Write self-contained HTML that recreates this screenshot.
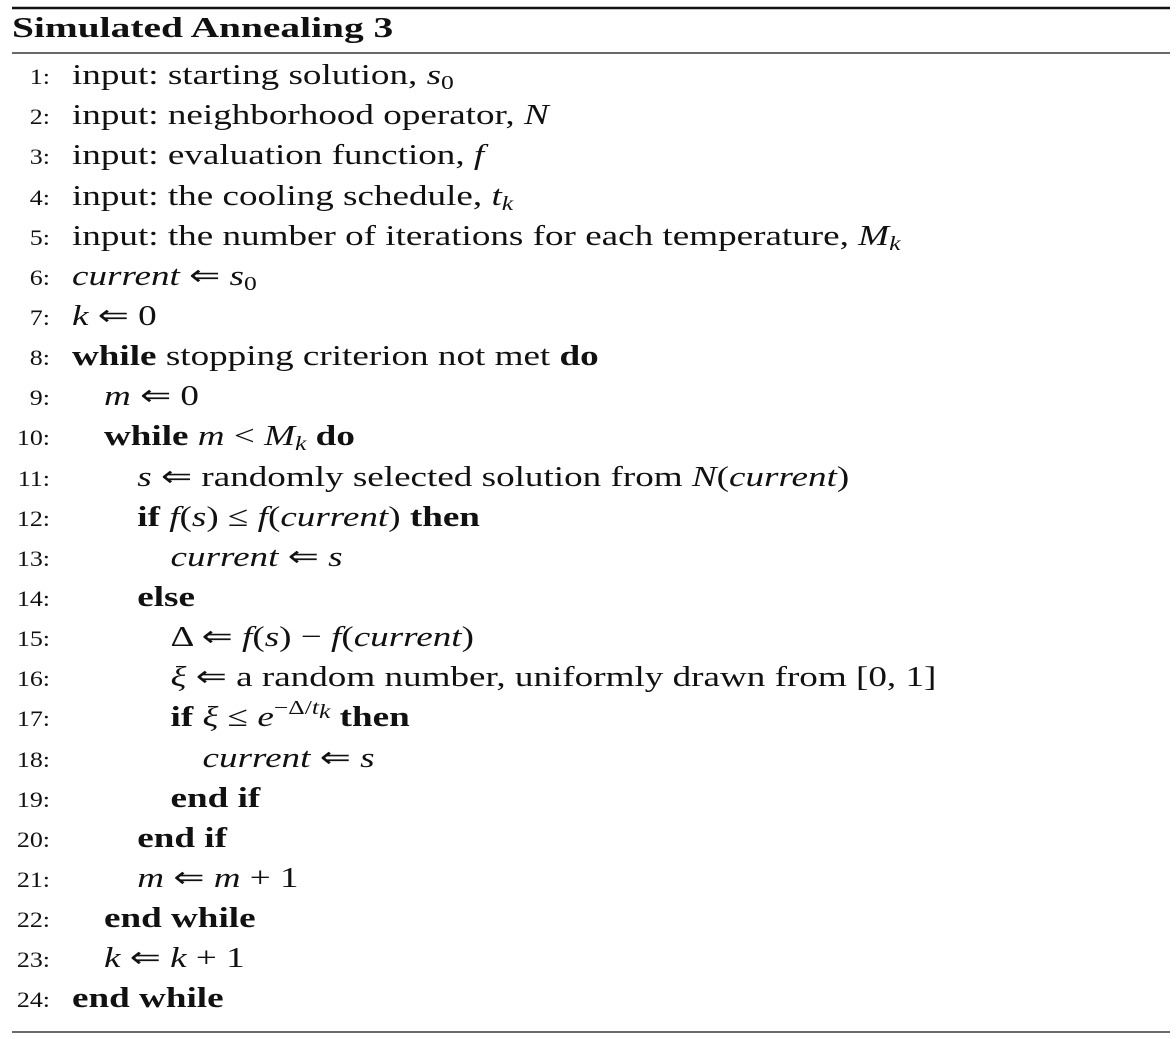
<!DOCTYPE html>
<html><head><meta charset="utf-8"><style>
html,body{margin:0;padding:0;background:#fff;width:1176px;height:1039px;overflow:hidden}
svg{display:block}
text{font-family:"Liberation Serif",serif;fill:#111}
.n{font-size:22px;text-anchor:end}
.t{font-size:29px}
.b{font-weight:bold}
.i{font-style:italic}
.s{font-size:20px}
</style></head><body>
<svg width="1176" height="1039">
<line x1="12" y1="8" x2="1170" y2="8" stroke="#111" stroke-width="2.5"/>
<g transform="translate(12,0) scale(1.36,1)">
<text x="0" y="37" class="t b" font-size="28">Simulated Annealing 3</text>
</g>
<line x1="12" y1="53" x2="1170" y2="53" stroke="#111" stroke-width="1.3"/>
<g transform="translate(50,0) scale(1.18,1)">
<text class="n" x="0" y="84">1:</text><text class="n" x="0" y="124">2:</text><text class="n" x="0" y="164">3:</text><text class="n" x="0" y="205">4:</text><text class="n" x="0" y="245">5:</text><text class="n" x="0" y="285">6:</text><text class="n" x="0" y="325">7:</text><text class="n" x="0" y="365">8:</text><text class="n" x="0" y="405">9:</text><text class="n" x="0" y="445">10:</text><text class="n" x="0" y="486">11:</text><text class="n" x="0" y="526">12:</text><text class="n" x="0" y="566">13:</text><text class="n" x="0" y="606">14:</text><text class="n" x="0" y="646">15:</text><text class="n" x="0" y="686">16:</text><text class="n" x="0" y="726">17:</text><text class="n" x="0" y="767">18:</text><text class="n" x="0" y="807">19:</text><text class="n" x="0" y="847">20:</text><text class="n" x="0" y="887">21:</text><text class="n" x="0" y="927">22:</text><text class="n" x="0" y="967">23:</text><text class="n" x="0" y="1007">24:</text>
</g>
<g transform="translate(72,0) scale(1.28,1)">
<text class="t" x="0" y="84">input: starting solution, <tspan class="i">s</tspan><tspan class="s" dy="5">0</tspan></text>
<text class="t" x="0" y="124">input: neighborhood operator, <tspan class="i">N</tspan></text>
<text class="t" x="0" y="164">input: evaluation function, <tspan class="i">f</tspan></text>
<text class="t" x="0" y="205">input: the cooling schedule, <tspan class="i">t</tspan><tspan class="s i" dy="5">k</tspan></text>
<text class="t" x="0" y="245">input: the number of iterations for each temperature, <tspan class="i">M</tspan><tspan class="s i" dy="5">k</tspan></text>
<text class="t" x="0" y="285"><tspan class="i">current</tspan> ⇐ <tspan class="i">s</tspan><tspan class="s" dy="5">0</tspan></text>
<text class="t" x="0" y="325"><tspan class="i">k</tspan> ⇐ 0</text>
<text class="t" x="0" y="365"><tspan class="b">while</tspan> stopping criterion not met <tspan class="b">do</tspan></text>
<text class="t" x="25" y="405"><tspan class="i">m</tspan> ⇐ 0</text>
<text class="t" x="25" y="445"><tspan class="b">while</tspan> <tspan class="i">m</tspan> &lt; <tspan class="i">M</tspan><tspan class="s i" dy="5">k</tspan><tspan dy="-5"> </tspan><tspan class="b">do</tspan></text>
<text class="t" x="51" y="486"><tspan class="i">s</tspan> ⇐ randomly selected solution from <tspan class="i">N</tspan>(<tspan class="i">current</tspan>)</text>
<text class="t" x="51" y="526"><tspan class="b">if</tspan> <tspan class="i">f</tspan>(<tspan class="i">s</tspan>) ≤ <tspan class="i">f</tspan>(<tspan class="i">current</tspan>) <tspan class="b">then</tspan></text>
<text class="t" x="77" y="566"><tspan class="i">current</tspan> ⇐ <tspan class="i">s</tspan></text>
<text class="t" x="51" y="606"><tspan class="b">else</tspan></text>
<text class="t" x="77" y="646">Δ ⇐ <tspan class="i">f</tspan>(<tspan class="i">s</tspan>) − <tspan class="i">f</tspan>(<tspan class="i">current</tspan>)</text>
<text class="t" x="77" y="686"><tspan class="i">ξ</tspan> ⇐ a random number, uniformly drawn from [0, 1]</text>
<text class="t" x="77" y="726"><tspan class="b">if</tspan> <tspan class="i">ξ</tspan> ≤ <tspan class="i">e</tspan><tspan class="s" dy="-12">−Δ/</tspan><tspan class="s i">t</tspan><tspan class="s i" font-size="14" dy="4">k</tspan><tspan dy="8"> </tspan><tspan class="b">then</tspan></text>
<text class="t" x="102" y="767"><tspan class="i">current</tspan> ⇐ <tspan class="i">s</tspan></text>
<text class="t" x="77" y="807"><tspan class="b">end if</tspan></text>
<text class="t" x="51" y="847"><tspan class="b">end if</tspan></text>
<text class="t" x="51" y="887"><tspan class="i">m</tspan> ⇐ <tspan class="i">m</tspan> + 1</text>
<text class="t" x="25" y="927"><tspan class="b">end while</tspan></text>
<text class="t" x="25" y="967"><tspan class="i">k</tspan> ⇐ <tspan class="i">k</tspan> + 1</text>
<text class="t" x="0" y="1007"><tspan class="b">end while</tspan></text>
</g>
<line x1="12" y1="1032" x2="1170" y2="1032" stroke="#111" stroke-width="1.3"/>
</svg>
</body></html>
